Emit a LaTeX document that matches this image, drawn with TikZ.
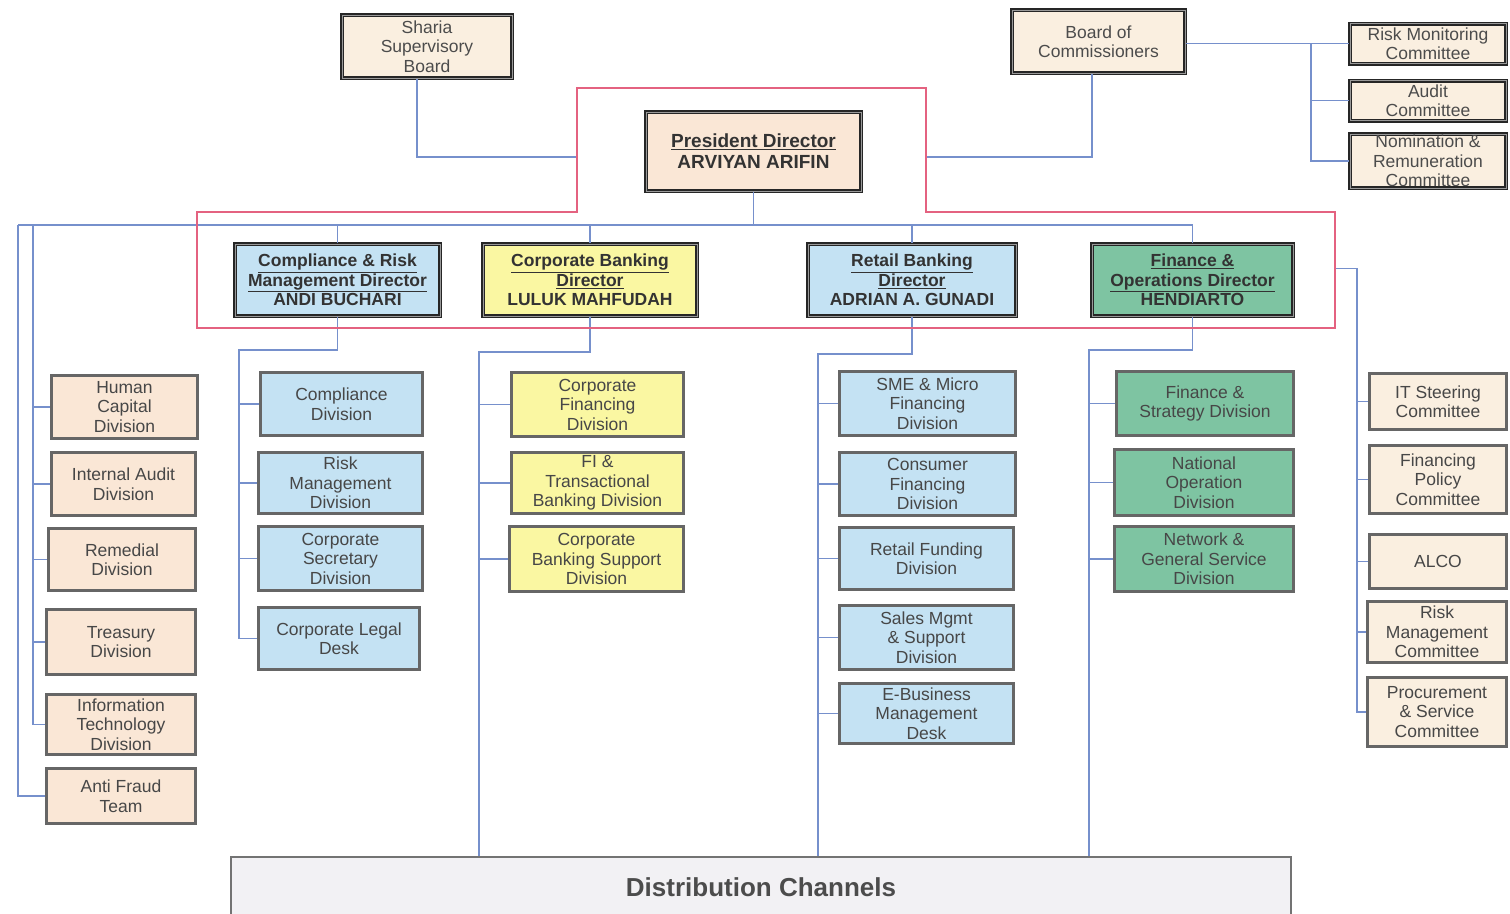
\documentclass[tikz,border=0pt]{standalone}
\usepackage{fontspec}
\setmainfont{Liberation Sans}

\definecolor{connblue}{RGB}{118,144,204}
\definecolor{pinkline}{RGB}{228,98,128}
\definecolor{peach}{RGB}{250,231,214}
\definecolor{cream}{RGB}{250,239,224}
\definecolor{skyfill}{RGB}{196,226,243}
\definecolor{lemon}{RGB}{250,247,162}
\definecolor{mint}{RGB}{126,196,162}
\definecolor{chanfill}{RGB}{242,241,244}

\tikzset{
  unit/.style={draw=black!60, line width=3pt, inner sep=0pt, align=center,
    text=black!72, font=\fontsize{17.5}{19.5}\selectfont},
  head/.style={draw=black!85, line width=1.5pt, double=black!40, double distance=1pt,
    inner sep=0pt, align=center, text=black!80,
    font=\bfseries\fontsize{17.5}{19.5}\selectfont},
  board/.style={head, text=black!70, font=\fontsize{17.5}{19.5}\selectfont},
  conn/.style={draw=connblue, line width=1.3pt},
  sz/.style 2 args={minimum width=#1pt, minimum height=#2pt},
}
\AtBeginDocument{\lineskiplimit=-20pt\relax}

\begin{document}
\begin{tikzpicture}[x=1pt, y=-1pt]
\useasboundingbox (0,0) rectangle (1510,913);

% top level
\node[board, fill=cream, sz={170}{63}] (sharia) at (427,46.5) {Sharia\\Supervisory\\Board};
\node[board, fill=cream, sz={173}{63}] (boc) at (1098.5,41.5) {Board of\\Commissioners};
\node[board, fill=cream, sz={156}{40}] (riskmon) at (1428,43.5) {Risk Monitoring\\Committee};
\node[board, fill=cream, sz={156}{40}] (audit) at (1428,100.5) {Audit\\Committee};
\node[board, fill=cream, sz={156}{54}] (nomin) at (1428,161) {Nomination \&\\Remuneration\\Committee};
\node[head, fill=peach, sz={215}{79}, font=\bfseries\fontsize{19}{21}\selectfont]
  (pres) at (753.5,151.5) {\underline{President Director}\\ARVIYAN ARIFIN};

% directors
\node[head, fill=skyfill, sz={205}{72}] (comp) at (337.5,280)
  {\underline{Compliance \& Risk}\\\underline{Management Director}\\ANDI BUCHARI};
\node[head, fill=lemon, sz={214}{72}] (corp) at (590,280)
  {\underline{Corporate Banking}\\\underline{Director}\\LULUK MAHFUDAH};
\node[head, fill=skyfill, sz={208}{72}] (retail) at (912,280)
  {\underline{Retail Banking}\\\underline{Director}\\ADRIAN A. GUNADI};
\node[head, fill=mint, sz={201}{72}] (fin) at (1192.5,280)
  {\underline{Finance \&}\\\underline{Operations Director}\\HENDIARTO};

% divisions under the president
\node[unit, fill=peach, sz={146}{63}] (hc) at (124.5,407) {Human\\Capital\\Division};
\node[unit, fill=peach, sz={144}{63}] (ia) at (123.5,484) {Internal Audit\\Division};
\node[unit, fill=peach, sz={147}{62}] (rem) at (122,559.5) {Remedial\\Division};
\node[unit, fill=peach, sz={149}{65}] (tre) at (121,642) {Treasury\\Division};
\node[unit, fill=peach, sz={149}{60}] (itd) at (121,724.5) {Information\\Technology\\Division};
\node[unit, fill=peach, sz={149}{55}] (af) at (121,796) {Anti Fraud\\Team};

% compliance & risk
\node[unit, fill=skyfill, sz={162}{63}] (cd) at (341.5,404) {Compliance\\Division};
\node[unit, fill=skyfill, sz={164}{61}] (rmd) at (340.5,483) {Risk\\Management\\Division};
\node[unit, fill=skyfill, sz={164}{64}] (csd) at (340.5,558.5) {Corporate\\Secretary\\Division};
\node[unit, fill=skyfill, sz={161}{62}] (cld) at (339,638.5) {Corporate Legal\\Desk};

% corporate banking
\node[unit, fill=lemon, sz={172}{64}] (cfd) at (597.5,404.5) {Corporate\\Financing\\Division};
\node[unit, fill=lemon, sz={172}{61}] (fitb) at (597.5,483) {FI \&\\Transactional\\Banking Division};
\node[unit, fill=lemon, sz={174}{65}] (cbs) at (596.5,559) {Corporate\\Banking Support\\Division};

% retail banking
\node[unit, fill=skyfill, sz={176}{64}] (sme) at (927.5,403.5) {SME \& Micro\\Financing\\Division};
\node[unit, fill=skyfill, sz={176}{63}] (cons) at (927.5,484) {Consumer\\Financing\\Division};
\node[unit, fill=skyfill, sz={174}{62}] (rf) at (926.5,558.5) {Retail Funding\\Division};
\node[unit, fill=skyfill, sz={174}{64}] (sales) at (926.5,637.5) {Sales Mgmt\\\& Support\\Division};
\node[unit, fill=skyfill, sz={174}{60}] (ebiz) at (926.5,713.5) {E-Business\\Management\\Desk};

% finance & operations
\node[unit, fill=mint, sz={177}{64}] (fs) at (1205,403.5) {Finance \&\\Strategy Division};
\node[unit, fill=mint, sz={179}{66}] (nat) at (1204,482.5) {National\\Operation\\Division};
\node[unit, fill=mint, sz={179}{65}] (net) at (1204,559) {Network \&\\General Service\\Division};

% committees
\node[unit, fill=cream, sz={137}{56}] (its) at (1438,401.5) {IT Steering\\Committee};
\node[unit, fill=cream, sz={137}{68}] (fpc) at (1438,479.5) {Financing\\Policy\\Committee};
\node[unit, fill=cream, sz={137}{54}] (alco) at (1438,561.5) {ALCO};
\node[unit, fill=cream, sz={139}{61}] (rmc) at (1437,632) {Risk\\Management\\Committee};
\node[unit, fill=cream, sz={139}{69}] (psc) at (1437,712) {Procurement\\\& Service\\Committee};

\node[draw=black!55, line width=1.5pt, fill=chanfill, sz={1060}{60}, text=black!70,
  font=\bfseries\fontsize{26}{30}\selectfont] (dist) at (761,887) {Distribution Channels};

% board lines
\coordinate (shariaEnd) at (577,157);
\coordinate (bocEnd) at (926,157);
\draw[conn] ([xshift=-10pt]sharia.south) |- (shariaEnd);
\draw[conn] ([xshift=-6.5pt]boc.south) |- (bocEnd);
\coordinate (bocbus) at (1311,43.5);
\draw[conn] (boc.east |- riskmon.west) -- (riskmon.west);
\draw[conn] (bocbus) |- (nomin.west);
\draw[conn] (bocbus |- audit.west) -- (audit.west);

% president to directors
\coordinate (bus) at (753.5,225);
\coordinate (busW) at (18,225);
\coordinate (busW2) at (33,225);
\draw[conn] (pres.south) -- (bus);
\draw[conn] (busW) -- (fin.north |- bus) -- (fin.north);
\foreach \d in {comp,corp,retail}
  \draw[conn] (\d.north |- bus) -- (\d.north);
\draw[conn] (busW) |- (af.west);
\draw[conn] (busW2) |- (itd.west);
\foreach \n in {hc,ia,rem,tre}
  \draw[conn] (busW2 |- \n.west) -- (\n.west);

% directors to divisions
\coordinate (compbus) at (239,350);
\draw[conn] (comp.south) |- (compbus) |- (cld.west);
\foreach \n in {cd,rmd,csd}
  \draw[conn] (compbus |- \n.west) -- (\n.west);

\coordinate (corpbus) at (479,352);
\draw[conn] (corp.south) |- (corpbus) -- (corpbus |- dist.north);
\foreach \n in {cfd,fitb,cbs}
  \draw[conn] (corpbus |- \n.west) -- (\n.west);

\coordinate (retbus) at (818,354);
\draw[conn] (retail.south) |- (retbus) -- (retbus |- dist.north);
\foreach \n in {sme,cons,rf,sales,ebiz}
  \draw[conn] (retbus |- \n.west) -- (\n.west);

\coordinate (finbus) at (1089,350);
\draw[conn] (fin.south) |- (finbus) -- (finbus |- dist.north);
\foreach \n in {fs,nat,net}
  \draw[conn] (finbus |- \n.west) -- (\n.west);

% committees line
\coordinate (pinkEdge) at (1335,268.5);
\coordinate (combus) at (1357,268.5);
\draw[conn] (pinkEdge) -- (combus) |- (psc.west);
\foreach \n in {its,fpc,alco,rmc}
  \draw[conn] (combus |- \n.west) -- (\n.west);

% board of directors outline
\draw[draw=pinkline, line width=2.6pt] (577,88) -- (926,88) -- (926,212) -- (1335,212)
  -- (1335,328) -- (197,328) -- (197,212) -- (577,212) -- cycle;
\end{tikzpicture}
\end{document}
